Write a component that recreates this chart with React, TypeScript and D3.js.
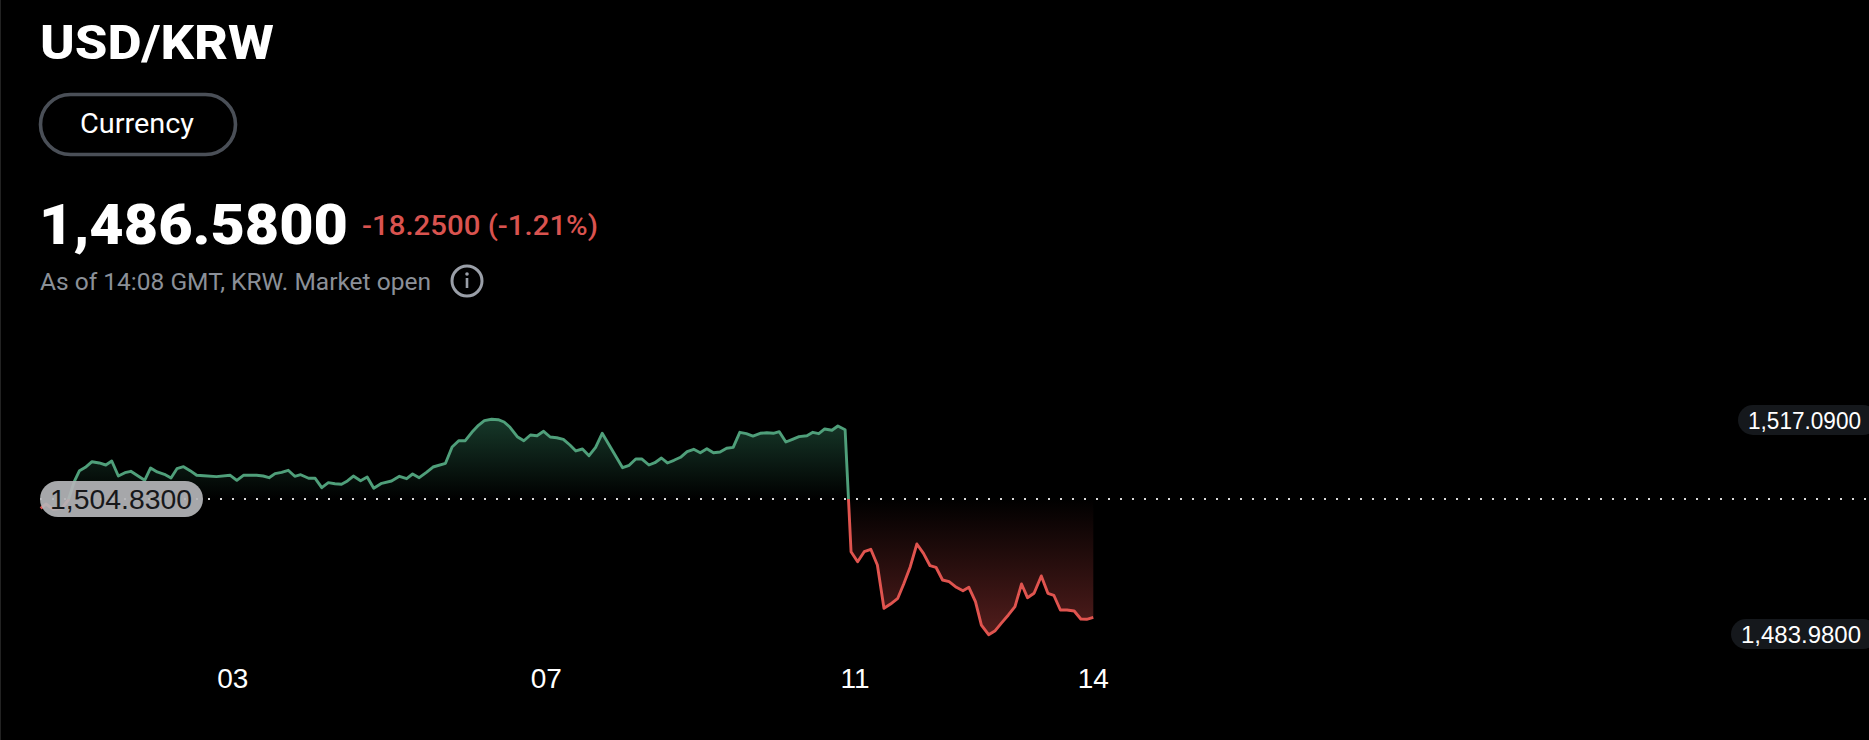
import React from "react";
import * as d3 from "d3";

const sessionPos = [0.1,0.9,2.0,3.3,4.3,5.2,6.0,6.9,7.9,9.0,10.0,10.9,11.9,12.9,13.8,14.9,15.9,16.8,17.8,18.9,19.9,20.8,21.8,22.8,23.8,24.9,26.8,28.9,29.9,30.9,32.9,33.9,34.8,35.7,36.7,37.7,38.7,39.6,40.8,41.8,42.8,43.8,44.8,45.8,46.7,47.6,48.7,49.7,50.7,51.9,53.4,54.6,55.7,56.6,57.6,58.7,59.7,61.6,62.6,63.6,64.6,65.6,66.6,67.5,68.6,69.6,70.5,71.4,72.5,73.5,74.5,75.5,76.5,77.5,78.5,79.5,80.5,81.4,82.4,83.4,84.4,85.4,88.5,89.5,90.5,91.4,92.5,93.4,94.4,95.3,96.3,97.3,98.3,99.3,100.3,101.3,102.3,103.3,104.3,105.3,106.3,107.3,108.3,109.4,110.4,111.4,112.3,113.3,114.3,115.3,116.5,117.4,118.3,119.2,120.3,121.2,122.3,123.2,124.2,125.2,126.2,127.2,128.2,129.2,130.3,131.2,132.2,133.2,134.2,135.2,136.1,137.1,138.1,139.2,140.2,141.1,142.1,143.0,144.1,145.1,146.1,147.1,148.1,149.1,150.0,151.0,152.1,153.1,154.0,155.0,156.0,157.1,158.1,159.0,160.0];
const rates = [1503.40,1504.06,1503.25,1503.40,1504.67,1507.48,1509.17,1509.69,1510.54,1510.35,1510.04,1510.65,1508.35,1508.86,1509.07,1508.35,1507.69,1509.58,1508.97,1508.61,1508.05,1509.47,1509.78,1509.17,1508.46,1508.40,1508.25,1508.46,1507.69,1508.46,1508.46,1508.35,1508.09,1508.71,1508.92,1509.23,1508.31,1508.55,1508.00,1508.00,1506.56,1507.33,1507.17,1507.08,1507.59,1508.35,1507.63,1508.20,1506.47,1507.23,1507.59,1508.31,1507.94,1508.66,1508.09,1508.92,1509.73,1510.30,1512.80,1513.76,1513.76,1515.05,1516.12,1516.83,1517.05,1516.98,1516.63,1515.82,1514.38,1513.76,1514.64,1514.53,1515.20,1514.33,1514.22,1513.98,1513.10,1512.19,1512.49,1511.46,1512.75,1514.90,1509.63,1509.99,1510.96,1510.96,1510.04,1510.39,1511.11,1510.35,1510.76,1511.22,1512.08,1512.45,1511.92,1512.54,1511.92,1512.03,1512.60,1512.75,1515.05,1514.84,1514.48,1514.90,1514.99,1514.90,1515.14,1513.56,1513.98,1514.38,1514.53,1515.05,1514.84,1515.56,1515.36,1516.02,1515.45,1496.75,1495.22,1496.75,1497.12,1494.71,1488.07,1488.73,1489.61,1491.80,1494.45,1497.93,1496.50,1494.60,1494.36,1492.41,1492.15,1491.29,1490.77,1491.29,1489.09,1485.51,1484.03,1484.64,1485.87,1487.05,1488.32,1491.80,1489.70,1490.37,1493.03,1490.37,1490.07,1487.81,1487.81,1487.66,1486.43,1486.39,1486.69];
const tickLabels = ["03", "07", "11", "14"];
const tickPos = [29.3, 76.9, 123.8, 160];
const previousClose = 1504.83;
const highValue = 1517.09;
const lowValue = 1483.98;

const W = 1869;
const H = 740;
const x = d3.scaleLinear().domain([0, 160]).range([40, 1093.3]);
const y = d3.scaleLinear().domain([lowValue, highValue]).range([635, 419]);
const series = sessionPos.map((t, i) => ({ t, v: rates[i] }));
const lineGen = d3.line<any>().x((d) => x(d.t)).y((d) => y(d.v));
const areaGen = d3.area<any>().x((d) => x(d.t)).y0(y(previousClose)).y1((d) => y(d.v));
const base = y(previousClose);
const fmt = (v: number) => d3.format(",.4f")(v);

const UI = "Roboto,'Noto Sans',sans-serif";
const NUM = "'Liberation Sans',Arial,sans-serif";
const GREEN = "#4f9f7a";
const RED = "#e0544f";

export default function App() {
  const d = lineGen(series) as string;
  const a = areaGen(series) as string;
  return (
    <svg width={W} height={H} viewBox={`0 0 ${W} ${H}`} style={{ position: "absolute", left: 0, top: 0, background: "#000" }}>
      <defs>
        <clipPath id="above"><rect x={0} y={0} width={W} height={base} /></clipPath>
        <clipPath id="below"><rect x={0} y={base} width={W} height={H - base} /></clipPath>
        <linearGradient id="gG" gradientUnits="userSpaceOnUse" x1={0} x2={0} y1={419} y2={base}>
          <stop offset="0" stopColor="#17392a" />
          <stop offset="1" stopColor="#000" />
        </linearGradient>
        <linearGradient id="gR" gradientUnits="userSpaceOnUse" x1={0} x2={0} y1={base} y2={635}>
          <stop offset="0" stopColor="#000" />
          <stop offset="1" stopColor="#521d1c" />
        </linearGradient>
      </defs>
      <rect x={0} y={0} width={W} height={H} fill="#000" />
      <rect x={0} y={0} width={1} height={H} fill="#222" />

      <text x={40} y={59} fill="#fff" fontFamily={UI} fontWeight={800} fontSize={48} textLength={234} lengthAdjust="spacingAndGlyphs">USD/KRW</text>
      <rect x={40.5} y={94.5} width={195} height={60} rx={30} fill="none" stroke="#4a4f57" strokeWidth={3.6} />
      <text x={80} y={133} fill="#fff" fontFamily={UI} fontWeight={400} fontSize={27.5} textLength={114} lengthAdjust="spacingAndGlyphs">Currency</text>
      <text x={39} y={244} fill="#fff" fontFamily={UI} fontWeight={900} fontSize={56} textLength={309} lengthAdjust="spacingAndGlyphs">1,486.5800</text>
      <text x={362} y={235} fill="#d9534f" fontFamily={UI} fontWeight={500} fontSize={27} textLength={236} lengthAdjust="spacingAndGlyphs">-18.2500 (-1.21%)</text>
      <text x={40} y={290} fill="#8b9098" fontFamily={UI} fontWeight={400} fontSize={24} textLength={391} lengthAdjust="spacingAndGlyphs">As of 14:08 GMT, KRW. Market open</text>
      <circle cx={467} cy={281} r={15} fill="none" stroke="#9a9fa8" strokeWidth={3} />
      <circle cx={467} cy={274} r={1.8} fill="#9a9fa8" />
      <rect x={465.7} y={278} width={2.6} height={10} fill="#9a9fa8" />

      <path d={a} fill="url(#gG)" clipPath="url(#above)" />
      <path d={a} fill="url(#gR)" clipPath="url(#below)" />
      <path d={d} fill="none" stroke={GREEN} strokeWidth={2.9} strokeLinejoin="round" clipPath="url(#above)" />
      <path d={d} fill="none" stroke={RED} strokeWidth={2.9} strokeLinejoin="round" clipPath="url(#below)" />

      <line x1={40} x2={W} y1={base} y2={base} stroke="#d8d8d8" strokeWidth={2} strokeDasharray="2 10" />

      <rect x={40} y={481} width={163} height={36} rx={18} fill="#b4b5b9" fillOpacity={0.92} />
      <text x={50} y={509} fill="#17181a" fontFamily={NUM} fontSize={28.5} textLength={142} lengthAdjust="spacingAndGlyphs">{fmt(previousClose)}</text>

      <rect x={1738} y={405} width={140} height={30} rx={15} fill="#15181c" />
      <text x={1861} y={429} textAnchor="end" fill="#fff" fontFamily={NUM} fontSize={24} textLength={113} lengthAdjust="spacingAndGlyphs">{fmt(highValue)}</text>
      <rect x={1731} y={619} width={147} height={30} rx={15} fill="#15181c" />
      <text x={1861} y={643} textAnchor="end" fill="#fff" fontFamily={NUM} fontSize={24} textLength={120} lengthAdjust="spacingAndGlyphs">{fmt(lowValue)}</text>

      {tickLabels.map((t, i) => (
        <text key={t} x={x(tickPos[i])} y={688} textAnchor="middle" fill="#fff" fontFamily={NUM} fontSize={28}>{t}</text>
      ))}
    </svg>
  );
}
